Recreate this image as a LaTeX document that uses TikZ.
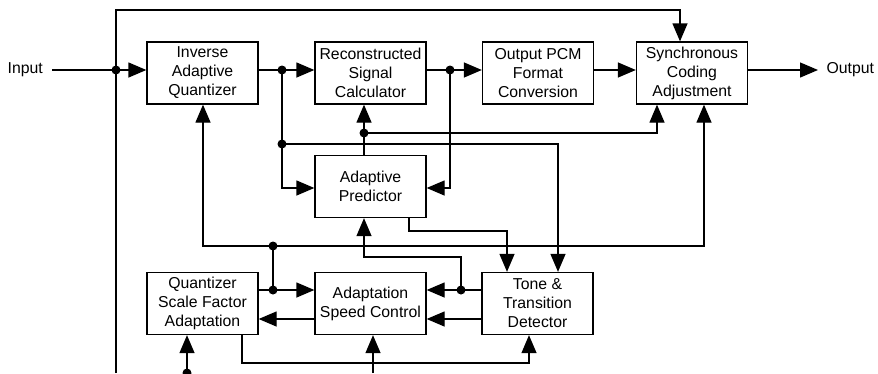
\documentclass[tikz,border=0pt]{standalone}
\usepackage{fontspec}
\setmainfont{Liberation Sans}
\usetikzlibrary{arrows.meta}
\begin{document}
\begin{tikzpicture}[x=1pt,y=-1pt,
  line width=1.3pt,
  blk/.style={draw, rectangle, minimum width=111pt, minimum height=62pt, inner sep=0pt, align=center,
    font=\fontsize{15.8}{19}\selectfont},
  lbl/.style={inner sep=0pt, font=\fontsize{15.8}{19}\selectfont},
  arr/.style={-{Triangle[length=18pt,width=15pt]}},
  dot/.style={circle, fill, inner sep=0pt, minimum size=9pt}]
\useasboundingbox (0,0) rectangle (878,373);

% blocks
\node[blk] (IAQ)  at (202.5,73)    {Inverse\\Adaptive\\Quantizer};
\node[blk] (RSC)  at (370.5,73)    {Reconstructed\\Signal\\Calculator};
\node[blk] (OPCM) at (538,73)      {Output PCM\\Format\\Conversion};
\node[blk] (SCA)  at (692,73)      {Synchronous\\Coding\\Adjustment};
\node[blk] (AP)   at (370.5,186.5) {Adaptive\\Predictor};
\node[blk] (QSFA) at (202.5,303.5) {Quantizer\\Scale Factor\\Adaptation};
\node[blk] (ASC)  at (370.5,303.5) {Adaptation\\Speed Control};
\node[blk] (TTD)  at (537.5,303.5) {Tone \&\\Transition\\Detector};

% labels
\node[lbl, anchor=west] (in)  at (7,70)   {Input};
\node[lbl, anchor=west] (out) at (826,70) {Output};

% junction coordinates
\coordinate (j1) at (116,70);
\coordinate (j2) at (282,70);
\coordinate (j3) at (282,144);
\coordinate (j4) at (450,70);
\coordinate (j5) at (364,133);
\coordinate (j6) at (273,290);
\coordinate (j7) at (273,246);
\coordinate (j8) at (461,290);
\coordinate (b1) at (116,373);
\coordinate (b2) at (187,373);
\coordinate (b3) at (373,373);
\coordinate (oe) at (818,70);

% input and feedback loop
\draw[arr] ([xshift=9pt]in.east) -- (IAQ.west |- j1);
\draw[arr] (b1) -- (116,10) -- (680,10) -- (SCA.north -| 680,0);

% IAQ -> RSC and taps
\draw[arr] (IAQ.east |- j2) -- (RSC.west |- j2);
\draw[arr] (j2) -- (282,188) -- (AP.west |- 0,188);
\draw[arr] (j3) -- (558,144) -- (TTD.north -| 558,0);

% RSC -> OPCM and tap
\draw[arr] (RSC.east |- j4) -- (OPCM.west |- j4);
\draw[arr] (j4) -- (450,188) -- (AP.east |- 0,188);

% AP -> RSC and tap to SCA
\draw[arr] (AP.north -| j5) -- (RSC.south -| j5);
\draw[arr] (j5) -- (657,133) -- (SCA.south -| 657,0);

% OPCM -> SCA -> output
\draw[arr] (OPCM.east |- 0,70) -- (SCA.west |- 0,70);
\draw[arr] (SCA.east |- 0,70) -- (oe);

% QSFA -> ASC and tap
\draw[arr] (QSFA.east |- j6) -- (ASC.west |- j6);
\draw (j6) -- (j7);
\draw[arr] (j7) -- (203,246) -- (IAQ.south -| 203,0);
\draw[arr] (j7) -- (704,246) -- (SCA.south -| 704,0);

% AP -> TTD
\draw[arr] (AP.south -| 409,0) -- (409,231) -- (507,231) -- (TTD.north -| 507,0);

% TTD -> ASC (two) and tap to AP
\draw[arr] (TTD.west |- j8) -- (ASC.east |- j8);
\draw[arr] (j8) -- (461,257) -- (364,257) -- (AP.south -| 364,0);
\draw[arr] (TTD.west |- 0,319) -- (ASC.east |- 0,319);

% ASC -> QSFA
\draw[arr] (ASC.west |- 0,319) -- (QSFA.east |- 0,319);

% QSFA -> TTD
\draw[arr] (QSFA.south -| 242,0) -- (242,363) -- (529,363) -- (TTD.south -| 529,0);

% bottom inputs
\draw[arr] (b2) -- (QSFA.south -| b2);
\draw[arr] (b3) -- (ASC.south -| b3);

% dots
\foreach \p in {j1,j2,j3,j4,j5,j6,j7,j8,b2}
  \node[dot] at (\p) {};
\end{tikzpicture}
\end{document}
